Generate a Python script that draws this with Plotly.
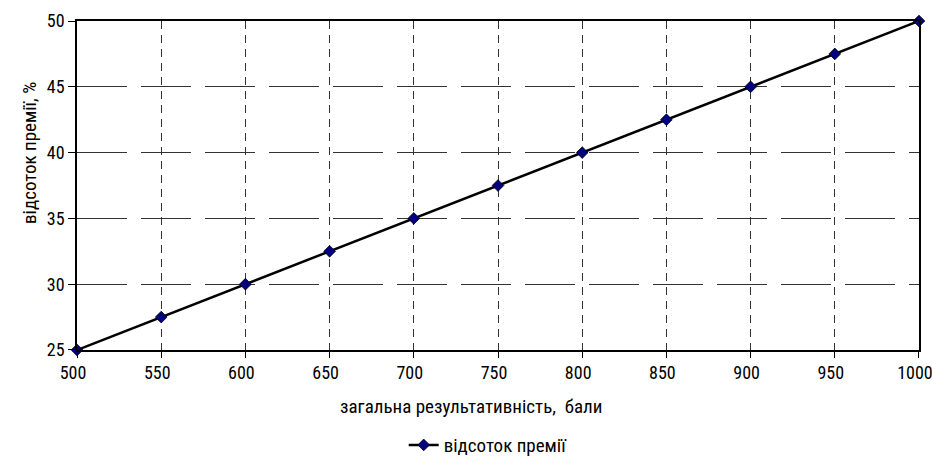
import plotly.graph_objects as go

# Score and bonus-percentage data
scores = [500, 550, 600, 650, 700, 750, 800, 850, 900, 950, 1000]
bonus_pct = [25, 27.5, 30, 32.5, 35, 37.5, 40, 42.5, 45, 47.5, 50]
x_ticks = [500, 550, 600, 650, 700, 750, 800, 850, 900, 950, 1000]
y_ticks = [25, 30, 35, 40, 45, 50]

series_name = "відсоток премії"
x_title = "загальна результативність,  бали"
y_title = "відсоток премії, %"

fig = go.Figure()
fig.add_trace(go.Scatter(
    x=scores, y=bonus_pct, name=series_name, mode="lines+markers",
    line=dict(color="black", width=2.5),
    marker=dict(symbol="diamond", size=9, color="#000080",
                line=dict(color="black", width=0.8)),
    cliponaxis=False,
))

font = dict(family="Roboto Condensed, Liberation Sans, sans-serif", size=19, color="black")
tick_font = dict(family="Roboto Condensed, Liberation Sans, sans-serif", size=18, color="black")

axis_common = dict(
    ticks="outside", tickcolor="black", showline=True, linecolor="black",
    linewidth=1.5, mirror=True, showgrid=True, gridcolor="#333333",
    gridwidth=1, zeroline=False, automargin=False, tickfont=tick_font,
)

fig.update_layout(
    width=932, height=458,
    margin=dict(l=77, r=13, t=21, b=108, autoexpand=False),
    paper_bgcolor="white", plot_bgcolor="white",
    font=font,
    showlegend=True,
    legend=dict(orientation="h", x=0.388, xanchor="left", y=-0.289, yanchor="middle",
                font=font, bgcolor="rgba(0,0,0,0)", itemwidth=30),
    xaxis=dict(range=[499.99, 1000.01], tickvals=x_ticks, ticklen=6,
               ticklabelshift=-4, griddash="8px,6px", ticklabeloverflow="allow",
               **axis_common),
    yaxis=dict(range=[24.999, 50.001], tickvals=y_ticks, ticklen=7,
               griddash="50px,14px", **axis_common),
)

# Axis titles
fig.add_annotation(text=x_title, xref="paper", yref="paper", x=0.468, y=-0.173,
                   xanchor="center", yanchor="middle", showarrow=False, font=font)
fig.add_annotation(text=y_title, xref="paper", yref="paper", x=-0.0558, y=0.599,
                   xanchor="center", yanchor="middle", textangle=-90,
                   showarrow=False, font=font)

fig.write_html("out.html")
